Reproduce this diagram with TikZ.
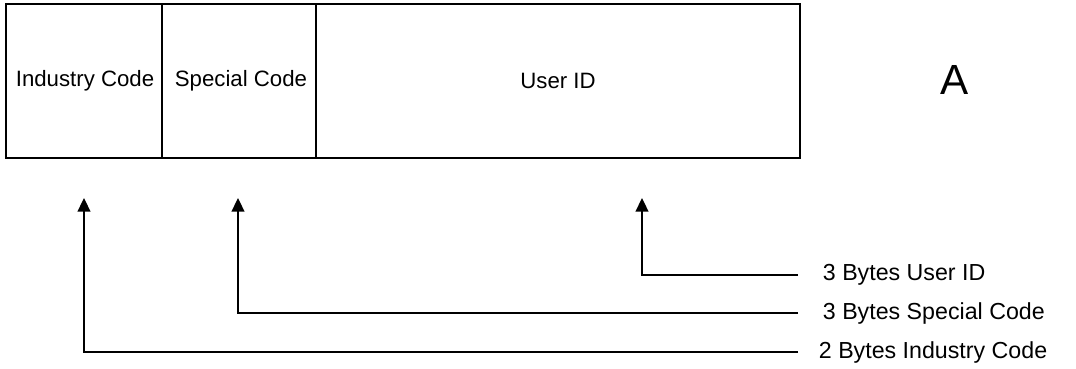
\documentclass[tikz,border=0pt]{standalone}
\usepackage{fontspec}
\setmainfont{Liberation Sans}
\usetikzlibrary{arrows.meta}

\begin{document}
\begin{tikzpicture}[x=0.025cm,y=-0.025cm,line width=1.3pt,
  cell/.style={font=\fontsize{15.8}{18}\selectfont},
  lbl/.style={anchor=west,inner sep=0pt,font=\fontsize{16.5}{20}\selectfont},
  conn/.style={line width=1.1pt,-{Triangle[width=0.32cm,length=0.34cm]}}]
\useasboundingbox (0,0) rectangle (1076,368);
% the record
\draw (6,4) rectangle (800,158);
\draw (162,4) -- (162,158);
\draw (316,4) -- (316,158);
\node[cell] (ind) at (85,81) {Industry Code};
\node[cell] (spc) at (241,81) {Special Code};
\node[cell] (uid) at (558,81) {User ID};
\node[font=\fontsize{30}{33}\selectfont] (tag) at (955,80) {A};
% field sizes
\node[lbl] (uidlbl) at (822,275) {3 Bytes User ID};
\node[lbl] (spclbl) at (822,313) {3 Bytes Special Code};
\node[lbl] (indlbl) at (818,352) {2 Bytes Industry Code};
\coordinate (uidend) at (798,275);
\coordinate (spcend) at (798,313);
\coordinate (indend) at (798,352);
\coordinate (uidtip) at (642,198);
\coordinate (spctip) at (238,198);
\coordinate (indtip) at (84,198);
\draw[conn] (uidend) -| (uidtip);
\draw[conn] (spcend) -| (spctip);
\draw[conn] (indend) -| (indtip);
\end{tikzpicture}
\end{document}
